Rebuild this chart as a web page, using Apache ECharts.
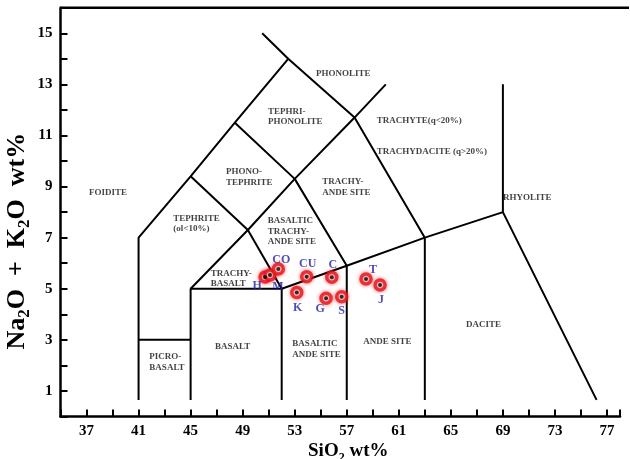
<!DOCTYPE html>
<html><head><meta charset="utf-8">
<script src="https://cdn.jsdelivr.net/npm/echarts@6.0.0/dist/echarts.min.js"></script>
<style>html,body{margin:0;padding:0;background:#fff}#c{width:630px;height:459px}</style>
</head><body><div id="c"></div>
<script>
// ---- sample data (SiO2 vs Na2O+K2O) ----
const samples = ['H', 'M', 'CO', 'CU', 'C', 'K', 'G', 'S', 'T', 'J'];
const sio2    = [50.72, 51.10, 51.74, 53.92, 55.85, 53.16, 55.41, 56.61, 58.48, 59.56];
const alkali  = [5.46, 5.54, 5.77, 5.47, 5.45, 4.85, 4.63, 4.69, 5.38, 5.15];

// ---- TAS field boundaries [SiO2, Na2O+K2O] ----
const bFoiditeTephrite = [[41, 0.65], [41, 7], [45, 9.4], [48.4, 11.5], [52.5, 14]];
const bPhonolite       = [[50.5, 15], [52.5, 14], [57.6, 11.7], [63, 7], [63, 0.65]];
const bPicroTop        = [[41, 3], [45, 3]];
const bBasalt          = [[45, 0.65], [45, 5], [52, 5], [52, 0.65]];
const bSubalkaline     = [[52, 5], [57, 5.9], [63, 7], [69, 8], [76.2, 0.65]];
const bTrachyBase      = [[45, 5], [49.4, 7.3], [53, 9.3], [57.6, 11.7], [60, 13]];
const bTephriteTop     = [[45, 9.4], [49.4, 7.3], [52, 5]];
const bPhonoTephrite   = [[48.4, 11.5], [53, 9.3], [57, 5.9], [57, 0.65]];
const bRhyolite        = [[69, 8], [69, 13]];

// ---- field names and their anchor (left edge, middle) in data units ----
const fieldNames = ['PHONOLITE', 'TEPHRI-\nPHONOLITE', 'TRACHYTE(q<20%)', 'TRACHYDACITE (q>20%)',
  'PHONO-\nTEPHRITE', 'TRACHY-\nANDE SITE', 'FOIDITE', 'RHYOLITE', 'TEPHRITE\n(ol<10%)',
  'BASALTIC\nTRACHY-\nANDE SITE', 'TRACHY-\nBASALT', 'DACITE', 'ANDE SITE',
  'BASALTIC\nANDE SITE', 'BASALT', 'PICRO-\nBASALT'];
const fieldX = [54.64, 50.95, 59.30, 59.30, 47.72, 55.12, 37.19, 69.01, 43.67, 50.93, 46.54, 66.17, 58.27, 52.82, 46.88, 41.83];
const fieldY = [13.43, 11.74, 11.59, 10.35, 9.37, 8.98, 8.75, 8.55, 7.54, 7.24, 5.39, 3.58, 2.94, 2.63, 2.73, 2.12];

// label offsets (px) for sample names
const labelOffset = {H: [-8, 9], M: [8, 12], CO: [3, -9], CU: [1, -13], C: [1, -12],
  K: [1, 15], G: [-6, 11], S: [0, 14], T: [7, -9], J: [1, 15]};

const SERIF = '"Liberation Serif","Times New Roman",serif';

const boundaries = [bFoiditeTephrite, bPhonolite, bPicroTop, bBasalt, bSubalkaline,
  bTrachyBase, bTephriteTop, bPhonoTephrite, bRhyolite];

const series = boundaries.map(b => ({
  type: 'line', data: b, showSymbol: false, silent: true, z: 2,
  lineStyle: {color: '#000', width: 2}
}));

series.push({
  type: 'scatter', name: 'fields', silent: true, z: 3,
  symbolSize: 1, itemStyle: {color: 'rgba(0,0,0,0)'},
  data: fieldNames.map((n, i) => ({name: n, value: [fieldX[i], fieldY[i]]})),
  label: {show: true, position: 'inside', align: 'left', verticalAlign: 'middle',
    formatter: p => p.name, fontFamily: SERIF, fontWeight: 'bold', fontSize: 9,
    lineHeight: 10.6, color: '#111'}
});

series.push({
  type: 'scatter', name: 'samples', z: 5,
  symbol: 'circle', symbolSize: 10,
  itemStyle: {color: '#fff', borderColor: '#e0141e', borderWidth: 3.5,
    shadowBlur: 4, shadowColor: 'rgba(255,0,0,0.6)'},
  data: samples.map((n, i) => ({name: n, value: [sio2[i], alkali[i]],
    label: {offset: labelOffset[n]}})),
  label: {show: true, position: 'inside', formatter: p => p.name,
    fontFamily: SERIF, fontWeight: 'bold', fontSize: 12, color: '#1f23a6'}
});

series.push({
  type: 'scatter', name: 'centres', z: 6, silent: true,
  symbol: 'circle', symbolSize: 4, itemStyle: {color: '#000'},
  data: samples.map((n, i) => [sio2[i], alkali[i]])
});

const chart = echarts.init(document.getElementById('c'), null, {renderer: 'canvas'});
chart.setOption({
  animation: false,
  backgroundColor: '#fff',
  grid: {left: 60.5, right: 10, top: 7.7, bottom: 42.5, containLabel: false, outerBoundsMode: 'none'},
  xAxis: {
    type: 'value', min: 35, max: 78, interval: 2,
    name: 'SiO{s|2} wt%', nameLocation: 'middle', nameGap: 23, nameMoveOverlap: false,
    nameTextStyle: {fontFamily: SERIF, fontWeight: 'bold', fontSize: 19, color: '#000',
      padding: [0, 0, 0, 16],
      rich: {s: {fontFamily: SERIF, fontWeight: 'bold', fontSize: 12, color: '#000', padding: [12, 0, 0, 0]}}},
    axisLine: {show: true, onZero: false, lineStyle: {color: '#000', width: 2.5}},
    axisTick: {show: true, inside: true, length: 7, lineStyle: {color: '#000', width: 2}},
    axisLabel: {formatter: v => ((v - 37) % 4 === 0 ? String(v) : ''), fontFamily: SERIF,
      fontWeight: 'bold', fontSize: 15, color: '#000', margin: 7},
    splitLine: {show: false}
  },
  yAxis: {
    type: 'value', min: 0, max: 16, interval: 1,
    name: 'Na{s|2}O  +  K{s|2}O  wt%', nameLocation: 'middle', nameRotate: 90, nameGap: 27,
    nameMoveOverlap: false,
    nameTextStyle: {fontFamily: SERIF, fontWeight: 'bold', fontSize: 26, color: '#000',
      padding: [0, 58, 0, 0],
      rich: {s: {fontFamily: SERIF, fontWeight: 'bold', fontSize: 17, color: '#000', padding: [15, 0, 0, 0]}}},
    axisLine: {show: true, onZero: false, lineStyle: {color: '#000', width: 2.5}},
    axisTick: {show: true, inside: true, length: 7, lineStyle: {color: '#000', width: 2}},
    axisLabel: {formatter: v => (v % 2 === 1 ? String(v) : ''), fontFamily: SERIF,
      fontWeight: 'bold', fontSize: 15, color: '#000', margin: 8},
    splitLine: {show: false}
  },
  series: series
});
const tl = chart.convertToPixel({gridIndex: 0}, [35, 16]);
chart.setOption({graphic: [{type: 'line', shape: {x1: tl[0], y1: tl[1], x2: 629, y2: tl[1]},
  style: {stroke: '#000', lineWidth: 2.5}, z: 10}]});
</script></body></html>
